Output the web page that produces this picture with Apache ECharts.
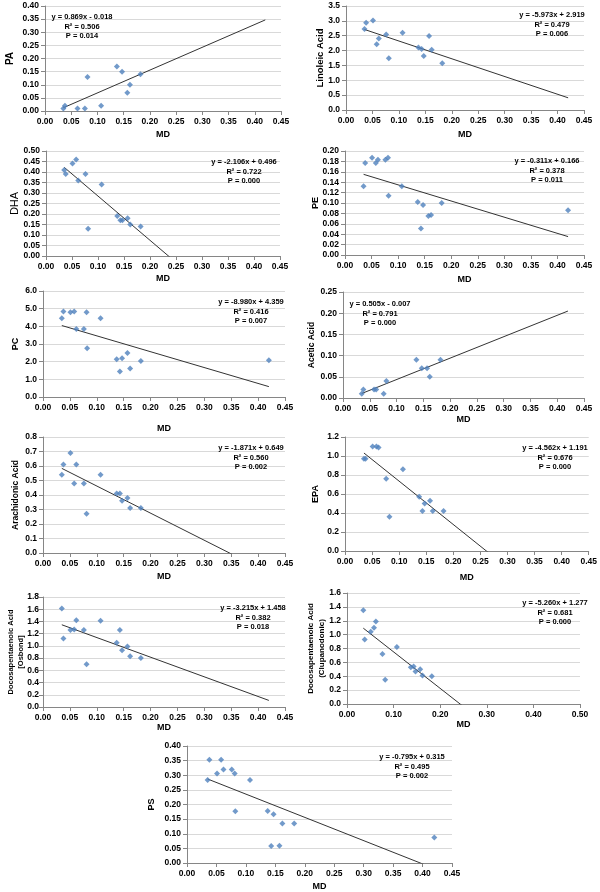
<!DOCTYPE html>
<html><head><meta charset="utf-8">
<script src="https://cdn.jsdelivr.net/npm/echarts@6/dist/echarts.min.js"></script>
<style>html,body{margin:0;padding:0;background:#fff}#c{width:600px;height:892px}</style>
</head><body><div id="c"></div>
<script>
// ---- data ----
const MD = [0.035,0.038,0.051,0.058,0.062,0.076,0.081,0.082,0.107,0.137,0.143,0.147,0.157,0.162,0.182,0.42];
const PA = [0.01,0.02,null,null,0.01,0.01,0.13,null,0.02,0.17,null,0.15,0.07,0.10,0.14,null];
const LINOLEIC = [2.73,2.94,3.01,2.21,2.41,2.54,1.74,null,2.60,2.10,2.05,1.82,2.49,2.03,1.57,null];
const DHA = [0.41,0.39,0.44,0.46,0.36,0.39,0.13,null,0.34,0.19,0.17,0.17,0.18,0.15,0.14,null];
const PE = [0.132,0.177,0.187,0.177,0.183,0.183,0.187,0.114,0.132,0.102,0.051,0.096,0.075,0.077,0.100,0.086];
const PC = [4.46,4.84,4.80,4.84,3.85,3.85,4.80,2.76,4.46,2.14,1.44,2.19,2.49,1.61,2.04,2.08];
const ACETIC = [0.01,0.02,null,0.02,0.02,0.01,0.04,null,null,0.09,null,0.07,0.07,0.05,0.09,null];
const ARACHIDONIC = [0.54,0.61,0.69,0.48,0.61,0.48,0.27,null,0.54,0.41,0.41,0.36,0.38,0.31,0.31,null];
const EPA = [0.97,0.97,1.10,1.10,1.09,0.76,null,0.36,0.86,0.57,0.42,0.50,0.53,0.42,0.42,null];
const OSBOND = [1.61,1.12,1.26,1.27,1.42,1.26,0.70,null,1.41,1.05,1.26,0.93,0.99,0.83,0.80,null];
const CLUPANODONIC = [1.35,0.93,1.04,1.10,1.19,0.72,null,0.35,0.82,0.53,0.54,0.47,0.50,0.41,0.40,null];
const PS = [0.284,0.353,0.306,0.353,0.32,0.32,0.306,0.177,0.284,0.178,0.058,0.167,0.059,0.135,0.135,0.087];

const SERIES_VALUES = [PA,LINOLEIC,DHA,PE,PC,ACETIC,ARACHIDONIC,EPA,OSBOND,CLUPANODONIC,PS];
const Y_NAMES = ['PA','Linoleic Acid','DHA','PE','PC','Acetic Acid','Arachidonic Acid','EPA',
  'Docosapentaenoic Acid\n[Osbond]','Docosapentaenoic Acid\n(Clupanodonic)','PS'];
const X_NAME = 'MD';
const SLOPES = [0.869,-5.973,-2.106,-0.311,-8.980,0.505,-1.871,-4.562,-3.215,-5.260,-0.795];
const INTERCEPTS = [-0.018,2.919,0.496,0.166,4.359,-0.007,0.649,1.191,1.458,1.277,0.315];
const R2 = ['0.506','0.479','0.722','0.378','0.416','0.791','0.560','0.676','0.382','0.681','0.495'];
const PVAL = ['0.014','0.006','0.000','0.011','0.007','0.000','0.002','0.000','0.018','0.000','0.002'];
const Y_MAX = [0.40,3.5,0.50,0.20,6.0,0.25,0.8,1.2,1.8,1.6,0.40];
const Y_STEP = [0.05,0.5,0.05,0.02,1.0,0.05,0.1,0.2,0.2,0.2,0.05];
const Y_DEC = [2,1,2,2,1,2,1,1,1,1,2];
const X_MAX = [0.45,0.45,0.45,0.45,0.45,0.45,0.45,0.45,0.45,0.50,0.45];
const X_STEP = [0.05,0.05,0.05,0.05,0.05,0.05,0.05,0.05,0.05,0.10,0.05];

// ---- layout (positions/styles) ----
const LAYOUT = [
  {g:[45,6,236,105],  xg:19, yg:28, yf:10, lh:13, yw:'bold', lm:6, eq:[82,17]},
  {g:[346,6,238,104], xg:20, yg:20, yf:9.5, lh:12, yw:'bold', lm:6, eq:[552,15]},
  {g:[46,151,234,105],xg:18, yg:25, yf:11, lh:13, yw:'normal', lm:6, eq:[244,162]},
  {g:[345,151,239,104],xg:20,yg:23, yf:9, lh:12, yw:'bold', lm:6, eq:[547,161]},
  {g:[43,291,242,106],xg:27, yg:21, yf:9, lh:12, yw:'bold', lm:6, eq:[251,302]},
  {g:[343,292,241,106],xg:17,yg:26, yf:8.5, lh:11, yw:'bold', lm:6, eq:[380,304]},
  {g:[43,437,242,116],xg:19, yg:22, yf:8.5, lh:11, yw:'bold', lm:6, eq:[251,448]},
  {g:[345,437,244,114],xg:22,yg:23, yf:9, lh:12, yw:'bold', lm:6, eq:[555,448]},
  {g:[43,597,242,110],xg:16, yg:17, yf:7.5, lh:10, yw:'bold', lm:4, eq:[253,608]},
  {g:[347,593,233,111],xg:16,yg:20, yf:8, lh:11, yw:'bold', lm:6, eq:[555,603]},
  {g:[187,746,265,117],xg:19,yg:29, yf:9, lh:12, yw:'bold', lm:6, eq:[412,757]}
];
const FONT = '"Liberation Sans", Arial, sans-serif';
const AXIS_COLOR = '#868686';
const MARK_COLOR = '#4F81BD';

const grid=[], xAxis=[], yAxis=[], series=[], graphic=[];
const mdMin = Math.min(...MD), mdMax = Math.max(...MD);
function fmtEq(m,b){
  return 'y = ' + m.toFixed(3) + 'x ' + (b<0?'- ':'+ ') + Math.abs(b).toFixed(3);
}
SERIES_VALUES.forEach((vals,i)=>{
  const L = LAYOUT[i];
  grid.push({left:L.g[0], top:L.g[1], width:L.g[2], height:L.g[3], containLabel:false});
  xAxis.push({
    type:'value', gridIndex:i, min:0, max:X_MAX[i], interval:X_STEP[i],
    name:X_NAME, nameLocation:'middle', nameGap:L.xg, nameMoveOverlap:false,
    nameTextStyle:{fontFamily:FONT, fontWeight:'bold', fontSize:9, color:'#000'},
    axisLine:{show:true, onZero:false, lineStyle:{color:AXIS_COLOR, width:1}},
    axisTick:{show:true, length:4, lineStyle:{color:AXIS_COLOR}},
    splitLine:{show:false},
    axisLabel:{fontFamily:FONT, fontWeight:'bold', fontSize:8.5, color:'#000', margin:6,
      formatter:v=>v.toFixed(2)}
  });
  yAxis.push({
    type:'value', gridIndex:i, min:0, max:Y_MAX[i], interval:Y_STEP[i],
    name:Y_NAMES[i], nameLocation:'middle', nameGap:L.yg, nameMoveOverlap:false,
    nameTextStyle:{fontFamily:FONT, fontWeight:L.yw, fontSize:L.yf, color:'#000', lineHeight:L.lh},
    axisLine:{show:true, lineStyle:{color:AXIS_COLOR, width:1}},
    axisTick:{show:true, length:4, lineStyle:{color:AXIS_COLOR}},
    splitLine:{show:true, lineStyle:{color:'#d9d9d9', width:1}},
    axisLabel:{fontFamily:FONT, fontWeight:'bold', fontSize:8.5, color:'#000', margin:L.lm,
      formatter:v=>v.toFixed(Y_DEC[i])}
  });
  const pts = [];
  MD.forEach((x,k)=>{ if(vals[k]!=null) pts.push([x, vals[k]]); });
  series.push({
    type:'scatter', xAxisIndex:i, yAxisIndex:i, data:pts,
    symbol:'diamond', symbolSize:6, itemStyle:{color:MARK_COLOR}, silent:true, z:3
  });
  series.push({
    type:'line', xAxisIndex:i, yAxisIndex:i, clip:true, symbol:'none', silent:true,
    data:[[mdMin, SLOPES[i]*mdMin+INTERCEPTS[i]],[mdMax, SLOPES[i]*mdMax+INTERCEPTS[i]]],
    lineStyle:{color:'#333333', width:1}, z:2
  });
  graphic.push({
    type:'text', x:L.eq[0], y:L.eq[1]-4.5, silent:true, z:10,
    style:{text:fmtEq(SLOPES[i],INTERCEPTS[i])+'\nR\u00B2 = '+R2[i]+'\nP = '+PVAL[i],
      fill:'#000', font:'bold 7.5px '+FONT, textAlign:'center', textVerticalAlign:'top', lineHeight:9.5}
  });
});

const chart = echarts.init(document.getElementById('c'), null, {renderer:'canvas'});
chart.setOption({animation:false, backgroundColor:'#fff', grid, xAxis, yAxis, series, graphic});
</script>
</body></html>
